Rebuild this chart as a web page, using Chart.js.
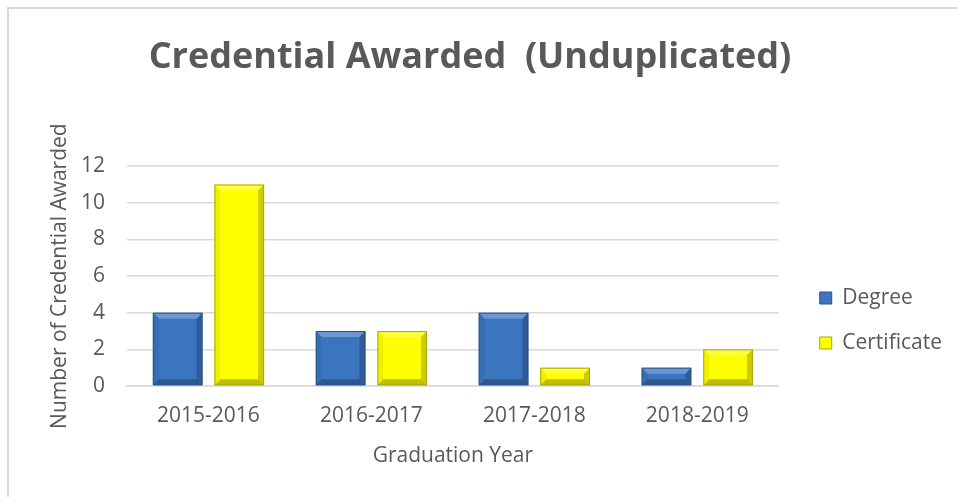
<!DOCTYPE html>
<html>
<head>
<meta charset="utf-8">
<script src="https://cdn.jsdelivr.net/npm/chart.js@4/dist/chart.umd.min.js"></script>
<style>
  html, body { margin: 0; padding: 0; background: #fff; }
  #wrap { position: absolute; left: 0; top: 0; width: 957px; height: 497px; overflow: hidden; }
  #frame { position: absolute; left: 7px; top: 7px; width: 960px; height: 500px;
           border-top: 2px solid #d9d9d9; border-left: 2px solid #d9d9d9; box-sizing: border-box; }
  canvas { position: absolute; left: 0; top: 0; }
</style>
</head>
<body>
<div id="wrap">
  <div id="frame"></div>
  <canvas id="c" width="957" height="497"></canvas>
</div>
<script>
const categories = ["2015-2016", "2016-2017", "2017-2018", "2018-2019"];
const degreeValues = [4, 3, 4, 1];
const certificateValues = [11, 3, 1, 2];
const yTicks = [0, 2, 4, 6, 8, 10, 12];

const FONT = "'Open Sans', 'Liberation Sans', sans-serif";
const TXT = "#595959";
const LEGEND_DX = 17;
const LEGEND_DY = 69;
const TITLE_DX = -19;
const TITLE_DY = 2;

const boxShift = {
  id: 'boxShift',
  afterLayout(chart) {
    const lg = chart.legend;
    if (lg) {
      lg.left += LEGEND_DX; lg.right += LEGEND_DX;
      lg.top += LEGEND_DY; lg.bottom += LEGEND_DY;
    }
    const tb = chart.titleBlock;
    if (tb) {
      tb.left += TITLE_DX; tb.right += TITLE_DX;
      tb.top += TITLE_DY; tb.bottom += TITLE_DY;
    }
  }
};

const bevelPlugin = {
  id: 'bevel',
  afterDatasetsDraw(chart) {
    const ctx = chart.ctx;
    chart.data.datasets.forEach((ds, di) => {
      const meta = chart.getDatasetMeta(di);
      meta.data.forEach(el => {
        const p = el.getProps(['x', 'y', 'base', 'width'], true);
        const l = p.x - p.width / 2, r = p.x + p.width / 2, t = p.y, b = p.base;
        const h = b - t;
        const s = Math.min(6, h / 2, p.width / 2);
        ctx.save();
        ctx.fillStyle = 'rgba(255,255,255,0.25)';
        ctx.beginPath(); ctx.moveTo(l, t); ctx.lineTo(r, t); ctx.lineTo(r - s, t + s); ctx.lineTo(l + s, t + s); ctx.closePath(); ctx.fill();
        ctx.fillStyle = 'rgba(0,0,0,0.06)';
        ctx.beginPath(); ctx.moveTo(l, t); ctx.lineTo(l + s, t + s); ctx.lineTo(l + s, b - s); ctx.lineTo(l, b); ctx.closePath(); ctx.fill();
        ctx.fillStyle = 'rgba(0,0,0,0.20)';
        ctx.beginPath(); ctx.moveTo(r, t); ctx.lineTo(r - s, t + s); ctx.lineTo(r - s, b - s); ctx.lineTo(r, b); ctx.closePath(); ctx.fill();
        ctx.fillStyle = 'rgba(0,0,0,0.25)';
        ctx.beginPath(); ctx.moveTo(l, b); ctx.lineTo(l + s, b - s); ctx.lineTo(r - s, b - s); ctx.lineTo(r, b); ctx.closePath(); ctx.fill();
        ctx.strokeStyle = ds.borderColor;
        ctx.lineWidth = 1;
        ctx.strokeRect(l + 0.5, t + 0.5, p.width - 1, h - 1);
        ctx.restore();
      });
    });
  }
};

new Chart(document.getElementById('c'), {
  type: 'bar',
  data: {
    labels: categories,
    datasets: [
      { label: 'Degree', data: degreeValues, backgroundColor: '#3b74bf', borderColor: '#2a5285', borderWidth: 0 },
      { label: 'Certificate', data: certificateValues, backgroundColor: '#ffff00', borderColor: '#a8a800', borderWidth: 0 }
    ]
  },
  options: {
    responsive: false,
    animation: false,
    devicePixelRatio: 1,
    categoryPercentage: 0.756,
    barPercentage: 0.806,
    layout: { padding: { left: 43, right: 22, top: 34, bottom: 28 } },
    plugins: {
      title: {
        display: true,
        text: 'Credential Awarded  (Unduplicated)',
        color: TXT,
        font: { family: FONT, size: 36, weight: 'bold' },
        padding: { top: 0, bottom: 89 }
      },
      legend: {
        position: 'right',
        align: 'center',
        labels: {
          color: TXT,
          font: { family: FONT, size: 21 },
          boxWidth: 12,
          boxHeight: 12,
          padding: 24,
          generateLabels(chart) {
            return chart.data.datasets.map((ds, i) => ({
              text: ds.label, fillStyle: ds.backgroundColor, strokeStyle: ds.borderColor,
              lineWidth: 1, hidden: false, datasetIndex: i, fontColor: TXT
            }));
          }
        }
      },
      tooltip: { enabled: false }
    },
    scales: {
      x: {
        afterFit(scale) { scale.height = 83; },
        grid: { display: false, drawTicks: false },
        border: { display: true, color: '#d9d9d9', width: 1.5 },
        ticks: { color: TXT, font: { family: FONT, size: 21 }, padding: 17, maxRotation: 0 },
        title: { display: true, text: 'Graduation Year', color: TXT, font: { family: FONT, size: 21 }, padding: { top: 15, bottom: 0 } }
      },
      y: {
        min: 0, max: 12,
        afterFit(scale) { scale.width = 84; },
        afterBuildTicks(scale) { scale.ticks = yTicks.map(v => ({ value: v })); },
        grid: { color: '#d9d9d9', lineWidth: 1.5, drawTicks: false },
        border: { display: false },
        ticks: { color: TXT, font: { family: FONT, size: 21 }, padding: 22 },
        title: { display: true, text: 'Number of Credential Awarded', color: TXT, font: { family: FONT, size: 21 }, padding: { top: 4, bottom: 10 } }
      }
    }
  },
  plugins: [boxShift, bevelPlugin]
});
</script>
</body>
</html>
